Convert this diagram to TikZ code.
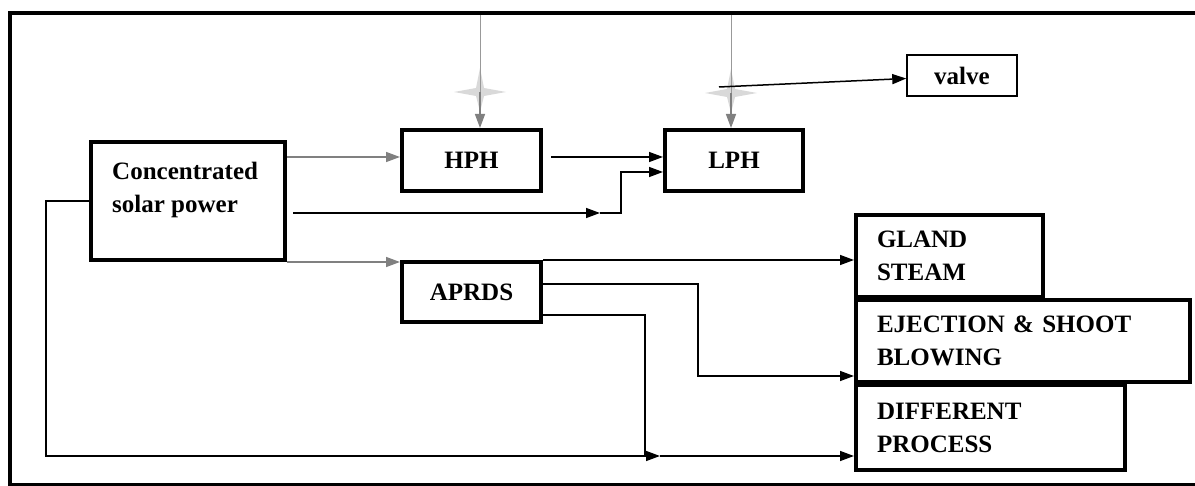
\documentclass[tikz,border=0pt]{standalone}
\usepackage{fontspec}
\setmainfont{Liberation Serif}
\usepackage{tikz}
\usetikzlibrary{arrows.meta,positioning}

\tikzset{
  unit/.style={draw,line width=4pt,inner sep=0pt,font=\bfseries\fontsize{25}{33}\selectfont},
  wide/.style={unit,align=left,inner xsep=21pt},
  flow/.style={line width=1.5pt,-{Triangle[length=14pt,width=10pt]}},
  grayflow/.style={flow,gray},
  link/.style={line width=1.5pt},
  spark/.style={fill=gray!30}
}

\begin{document}
\begin{tikzpicture}[x=1pt,y=-1pt]
\useasboundingbox (0,0) rectangle (1195,486);
\draw[line width=4pt] (1200,13) -- (10,13) -- (10,485) -- (1200,485);

\node[unit,minimum width=194pt,minimum height=118pt] (csp) at (188,201) {};
\node[font=\bfseries\fontsize{25}{33}\selectfont,align=left,inner sep=0pt,anchor=west] (csplabel) at (112,190) {Concentrated\\solar power};
\node[unit,minimum width=139pt,minimum height=61pt] (hph) at (471.5,160.5) {HPH};
\node[unit,minimum width=138pt,minimum height=61pt] (lph) at (734,160.5) {LPH};
\node[unit,line width=1.5pt,minimum width=110pt,minimum height=41pt] (valve) at (962,75.5) {valve};
\node[unit,minimum width=139pt,minimum height=60pt] (aprds) at (471.5,292) {APRDS};
\node[wide,text width=145pt,minimum height=82pt] (gland) at (949.5,256) {GLAND\\STEAM};
\node[wide,text width=292pt,minimum height=82pt] (eject) at (1023,341) {EJECTION \& SHOOT\\BLOWING};
\node[wide,text width=227pt,minimum height=85pt] (diff) at (990.5,427.5) {DIFFERENT\\PROCESS};

\coordinate (roof) at (0,15);
\coordinate (sparkH) at (480,92);
\coordinate (sparkL) at (731,93);
\fill[spark] (sparkH) +(0,-24) -- +(4,-4) -- +(26,0) -- +(4,4) -- +(0,20) -- +(-4,4) -- +(-26,0) -- +(-4,-4) -- cycle;
\fill[spark] (sparkL) +(0,-24) -- +(4,-4) -- +(26,0) -- +(4,4) -- +(0,20) -- +(-4,4) -- +(-26,0) -- +(-4,-4) -- cycle;
\draw[gray!80,line width=1pt] (sparkH |- roof) -- (sparkH);
\draw[grayflow] (sparkH) -- (sparkH |- hph.north);
\draw[gray!80,line width=1pt] (sparkL |- roof) -- (sparkL);
\draw[grayflow] (sparkL) -- (sparkL |- lph.north);

\coordinate (tap) at (719,87);
\draw[flow] (tap) -- ([yshift=-3pt]valve.west);

\coordinate (feedH) at (0,157);
\draw[grayflow] (csp.east |- feedH) -- (hph.west |- feedH);
\draw[flow,shorten <=8pt] (hph.east |- feedH) -- (lph.west |- feedH);

\coordinate (midA) at (600,213);
\coordinate (bendA) at (621,213);
\coordinate (feedL) at (0,172);
\draw[flow,shorten <=6pt] (csp.east |- midA) -- (midA);
\draw[flow] (midA) -- (bendA) -- (bendA |- feedL) -- (lph.west |- feedL);

\draw[grayflow] (csp.south east) -- (csp.south east -| aprds.west);
\draw[flow] (aprds.north east) -- (aprds.north east -| gland.west);

\coordinate (bendB) at (698,284);
\coordinate (bendB2) at (698,376);
\draw[flow] (aprds.east |- bendB) -- (bendB) -- (bendB2) -- (bendB2 -| eject.west);

\coordinate (bendC) at (645,315);
\coordinate (bendC2) at (645,456);
\draw[link] (aprds.east |- bendC) -- (bendC) -- (bendC2);

\coordinate (loopD) at (46,201);
\coordinate (loopD2) at (46,456);
\coordinate (midD) at (660,456);
\draw[flow] (csp.west |- loopD) -- (loopD) -- (loopD2) -- (midD);
\draw[flow] (midD) -- (midD -| diff.west);
\end{tikzpicture}
\end{document}
